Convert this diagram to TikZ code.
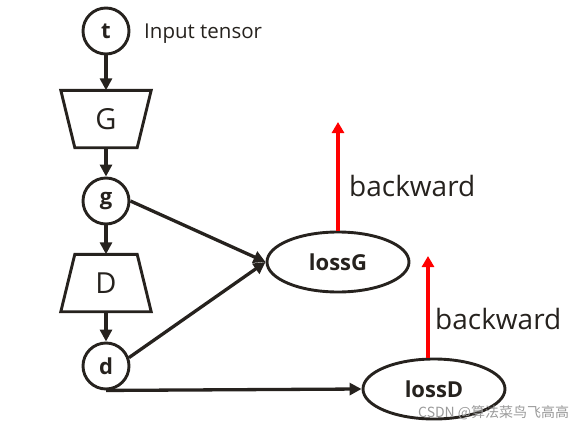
\documentclass[tikz,border=0pt]{standalone}
\usepackage{fontspec}
\setmainfont{Open Sans}
\newfontfamily\cjkfont{Noto Sans CJK SC}
\usetikzlibrary{shapes.geometric,arrows.meta}
\definecolor{ink}{HTML}{26221E}
\definecolor{wm}{HTML}{9A9A9A}
\tikzset{
  lw/.style={line width=2.9pt, draw=ink},
  circ/.style={shape=circle, lw, minimum size=46pt, inner sep=0pt, font=\fontsize{22}{24}\selectfont\bfseries, text=ink},
  trap/.style={shape=rectangle, minimum width=62pt, minimum height=57pt, inner sep=0pt, font=\fontsize{29}{31}\selectfont, text=ink},
  trapline/.style={lw, line join=miter},
  loss/.style={shape=ellipse, lw, minimum width=142pt, minimum height=60pt, inner sep=0pt, font=\fontsize{22}{24}\selectfont\bfseries, text=ink},
  conn/.style={draw=ink, line width=3.3pt, -{Triangle[length=12pt,width=12pt]}},
  redarrow/.style={draw=red, line width=3.8pt, -{Triangle[length=11pt,width=12pt]}},
  lab/.style={anchor=west, text=ink, inner sep=0pt},
}
\begin{document}
\begin{tikzpicture}[x=1pt,y=-1pt]
\useasboundingbox (0,0) rectangle (582,431);
\node[circ] (t) at (106,31) {t};
\node[lab, font=\fontsize{20.5}{22}\selectfont] (inp) at (144,34) {Input tensor};
\node[trap] (G) at (106,119) {G};
\draw[trapline] ([xshift=-14pt]G.north west) -- ([xshift=14pt]G.north east) -- (G.south east) -- (G.south west) -- cycle;
\node[circ] (g) at (106,201) {g};
\node[trap] (D) at (106,283) {D};
\draw[trapline] (D.north west) -- (D.north east) -- ([xshift=14pt]D.south east) -- ([xshift=-14pt]D.south west) -- cycle;
\node[circ] (d) at (106,366) {d};
\node[loss] (lossG) at (338,262) {lossG};
\node[loss] (lossD) at (434,389) {lossD};
\coordinate (bgtip) at (338,122);
\coordinate (bdtip) at (428,256);
\draw[conn] (t) -- (G.north);
\draw[conn] (G.south) -- (g);
\draw[conn] (g) -- (D.north);
\draw[conn] (D.south) -- (d);
\draw[conn] (g.east) -- (lossG.west);
\draw[conn] (d.20) -- (lossG.west);
\draw[conn] (d.south) -- (lossD.west);
\draw[redarrow] (lossG.north) -- (bgtip);
\draw[redarrow] (bdtip |- lossD.north) -- (bdtip);
\node[lab, font=\fontsize{28}{30}\selectfont] (bw1) at (349,186) {backward};
\node[lab, font=\fontsize{28}{30}\selectfont] (bw2) at (435,319) {backward};
\node[anchor=west, inner sep=0pt, text=wm, font=\cjkfont\fontsize{14}{16}\selectfont] (wmk) at (418,413) {CSDN @算法菜鸟飞高高};
\end{tikzpicture}
\end{document}
